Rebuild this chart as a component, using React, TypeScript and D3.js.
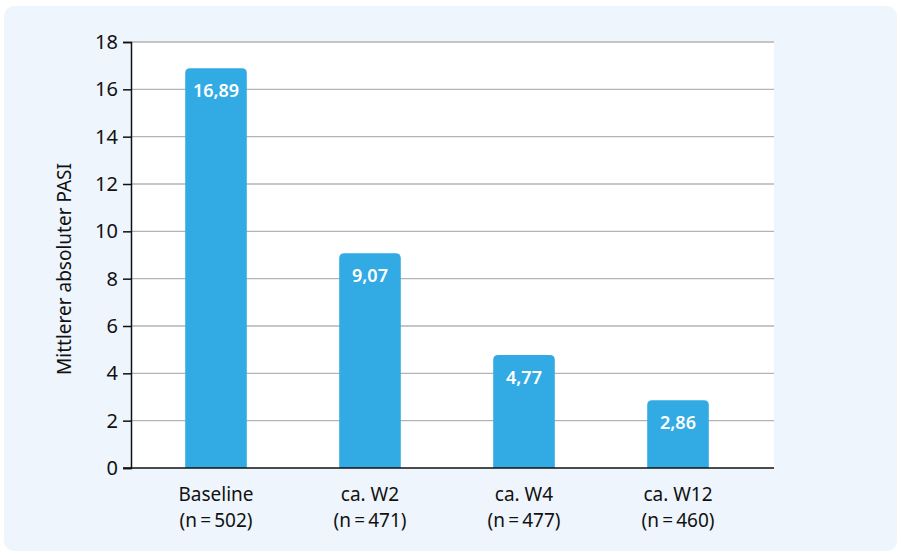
import React, { useEffect, useRef } from 'react';
import * as d3 from 'd3';

const categories = ['Baseline', 'ca. W2', 'ca. W4', 'ca. W12'];
const sampleSizes = ['(n\u2009=\u2009502)', '(n\u2009=\u2009471)', '(n\u2009=\u2009477)', '(n\u2009=\u2009460)'];
const values = [16.89, 9.07, 4.77, 2.86];
const valueLabels = ['16,89', '9,07', '4,77', '2,86'];
const yTicks = [0, 2, 4, 6, 8, 10, 12, 14, 16, 18];

const FONT = '"Noto Sans", "Open Sans", sans-serif';

const App = () => {
  const ref = useRef<SVGSVGElement | null>(null);

  useEffect(() => {
    if (!ref.current) return;
    const svg = d3.select(ref.current);
    svg.selectAll('*').remove();

    // panel
    svg.append('rect')
      .attr('x', 4).attr('y', 6)
      .attr('width', 893).attr('height', 545)
      .attr('rx', 10)
      .attr('fill', '#eef5fc');

    const left = 131, right = 774, top = 42, bottom = 468;

    // plot area
    svg.append('rect')
      .attr('x', left).attr('y', top)
      .attr('width', right - left).attr('height', bottom - top)
      .attr('fill', '#ffffff');

    const y = d3.scaleLinear().domain([0, 18]).range([bottom, top]);
    const x = d3.scaleBand<string>()
      .domain(categories)
      .range([139, 755])
      .paddingInner(0.6)
      .paddingOuter(0.3);

    // gridlines
    svg.append('g')
      .selectAll('line')
      .data(yTicks.filter(t => t > 0))
      .enter()
      .append('line')
      .attr('x1', left).attr('x2', right)
      .attr('y1', d => y(d)).attr('y2', d => y(d))
      .attr('stroke', '#b3b3b3')
      .attr('stroke-width', 1.3);

    // y axis
    const yAxis = svg.append('g')
      .attr('transform', `translate(${left},0)`)
      .call(d3.axisLeft(y).tickValues(yTicks).tickSize(8).tickPadding(5).tickFormat(d3.format('d')));
    yAxis.select('.domain').attr('stroke', '#111').attr('stroke-width', 1.5);
    yAxis.selectAll('.tick line').attr('stroke', '#111').attr('stroke-width', 1.5);
    yAxis.selectAll('.tick text')
      .attr('fill', '#111')
      .style('font-family', FONT)
      .style('font-size', '20px');

    // bars with rounded top
    const r = 5;
    const bw = x.bandwidth();
    svg.append('g')
      .selectAll('path')
      .data(values)
      .enter()
      .append('path')
      .attr('d', (d, i) => {
        const x0 = x(categories[i]) as number;
        const y0 = y(d);
        const yb = y(0);
        return `M${x0},${yb}V${y0 + r}Q${x0},${y0} ${x0 + r},${y0}H${x0 + bw - r}Q${x0 + bw},${y0} ${x0 + bw},${y0 + r}V${yb}Z`;
      })
      .attr('fill', '#32abe4');

    // value labels
    svg.append('g')
      .selectAll('text')
      .data(values)
      .enter()
      .append('text')
      .attr('x', (d, i) => (x(categories[i]) as number) + bw / 2)
      .attr('y', d => y(d) + 29)
      .attr('text-anchor', 'middle')
      .attr('fill', '#ffffff')
      .style('font-family', FONT)
      .style('font-weight', '600')
      .style('font-size', '18px')
      .text((d, i) => valueLabels[i]);

    // x axis baseline
    svg.append('line')
      .attr('x1', left - 8).attr('x2', right)
      .attr('y1', bottom).attr('y2', bottom)
      .attr('stroke', '#111')
      .attr('stroke-width', 1.5);

    // category labels
    const labels = svg.append('g');
    categories.forEach((c, i) => {
      const cx = (x(c) as number) + bw / 2;
      labels.append('text')
        .attr('x', cx).attr('y', 501)
        .attr('text-anchor', 'middle')
        .attr('fill', '#111')
        .style('font-family', FONT)
        .style('font-size', '19px')
        .text(c);
      labels.append('text')
        .attr('x', cx).attr('y', 527)
        .attr('text-anchor', 'middle')
        .attr('fill', '#111')
        .style('font-family', FONT)
        .style('font-size', '19px')
        .text(sampleSizes[i]);
    });

    // y axis title
    svg.append('text')
      .attr('transform', `translate(71,${(top + bottom) / 2 + 14}) rotate(-90)`)
      .attr('text-anchor', 'middle')
      .attr('fill', '#111')
      .style('font-family', FONT)
      .style('font-size', '19px')
      .text('Mittlerer absoluter PASI');
  }, []);

  return (
    <svg
      ref={ref}
      width={901}
      height={555}
      style={{ position: 'absolute', left: 0, top: 0, background: '#ffffff' }}
    />
  );
};

export default App;
